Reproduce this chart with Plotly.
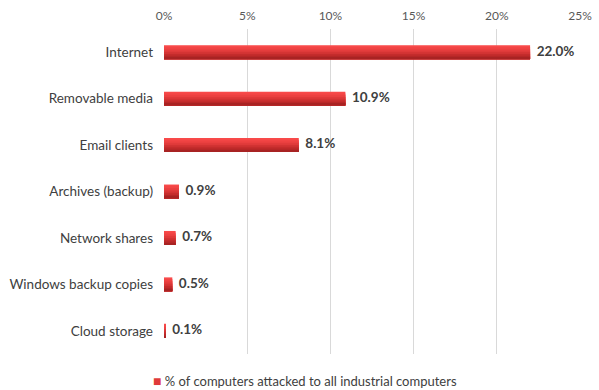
import plotly.graph_objects as go

categories = ["Internet", "Removable media", "Email clients", "Archives (backup)",
              "Network shares", "Windows backup copies", "Cloud storage"]
values = [22.0, 10.9, 8.1, 0.9, 0.7, 0.5, 0.1]
series_name = "% of computers attacked to all industrial computers"
x_ticks = [0, 5, 10, 15, 20, 25]

# gradient strips (top -> bottom)
strip_colors = ["#f84a4a", "#f24545", "#ea4040", "#df3a3a", "#d23333", "#c42c2c", "#b52727", "#a82323"]
bar_w = 0.30
n = len(strip_colors)
sw = bar_w / n

fig = go.Figure()
ypos = list(range(len(categories)))
for i, c in enumerate(strip_colors):
    off = -bar_w / 2 + i * sw
    fig.add_trace(go.Bar(
        x=values, y=ypos, orientation="h",
        width=bar_w - i * sw, offset=off,
        marker=dict(color=c, line=dict(width=0)),
        showlegend=False, hoverinfo="skip",
    ))

fig.add_trace(go.Scatter(
    x=values, y=ypos, mode="text",
    text=[f"{v:.1f}%" for v in values],
    textposition="middle right",
    texttemplate="  %{text}",
    textfont=dict(family="Lato, Carlito, sans-serif", size=13.5, color="#404040", weight="bold"),
    showlegend=False, hoverinfo="skip",
))

# legend drawn as text (marker glyph + series name)
fig.add_annotation(
    xref="paper", yref="paper", x=-0.031, y=-0.083,
    xanchor="left", yanchor="middle", showarrow=False,
    text=f"<span style='color:#e03a3a;font-size:14px'>■</span> {series_name}",
    font=dict(family="Lato, Carlito, sans-serif", size=13, color="#404040"),
)

fig.update_layout(
    width=599, height=390,
    margin=dict(l=164, r=19, t=29, b=36),
    paper_bgcolor="white", plot_bgcolor="white",
    barmode="overlay",
    showlegend=False,
    font=dict(family="Lato, Carlito, sans-serif", size=12, color="#595959"),
    xaxis=dict(
        side="top", range=[0, 25], tickvals=x_ticks,
        ticktext=[f"{t}%" for t in x_ticks],
        showgrid=True, gridcolor="#d9d9d9", gridwidth=1,
        zeroline=False, showline=False, ticks="",
        ticklabelstandoff=6,
        tickfont=dict(size=12, color="#595959"), fixedrange=True,
        automargin=False,
    ),
    yaxis=dict(
        tickvals=ypos, ticktext=categories,
        range=[len(categories) - 0.5, -0.5],
        showgrid=False, zeroline=False, showline=False, ticks="",
        ticklabelstandoff=10,
        tickfont=dict(size=13.5, color="#404040"),
        automargin=False, fixedrange=True,
    ),
)

fig.write_html("out.html", config={"displayModeBar": False},
               post_script="document.body.style.margin='0';")
